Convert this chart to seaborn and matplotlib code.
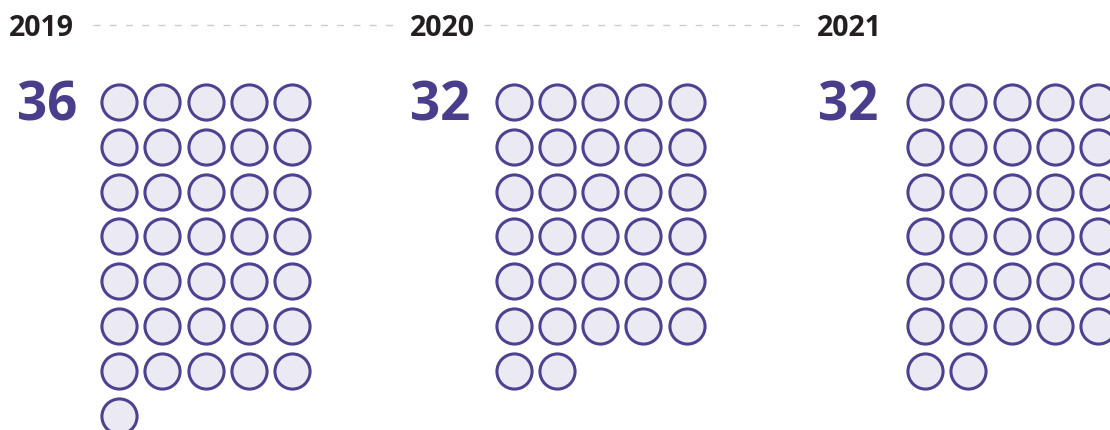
import pandas as pd
import matplotlib.pyplot as plt
import seaborn as sns

years = ['2019', '2020', '2021']
counts = [36, 32, 32]

# layout (pixels)
group_x = [119, 513.5, 925]
label_x = [9, 410, 817]
number_right = [77, 470, 878]
dash_spans = [(93, 397), (484, 803)]
top_y = 103
col_step, row_step = 43.3, 44.8
ncols = 5

sns.set_theme(style="white")
plt.rcParams['font.family'] = ['Open Sans', 'DejaVu Sans']

rows = []
for year, n, gx in zip(years, counts, group_x):
    for i in range(n):
        rows.append({'year': year,
                     'x': gx + (i % ncols) * col_step,
                     'y': top_y + (i // ncols) * row_step})
df = pd.DataFrame(rows)

fig = plt.figure(figsize=(11.1, 4.31), dpi=100)
ax = fig.add_axes([0, 0, 1, 1])
ax.set_xlim(0, 1110)
ax.set_ylim(431, 0)
ax.axis('off')

sns.scatterplot(data=df, x='x', y='y', s=640, color='#ebeaf2',
                edgecolor='#4c4291', linewidth=2.2, legend=False, ax=ax)

for year, n, lx, nr in zip(years, counts, label_x, number_right):
    ax.text(lx, 36, year, fontsize=20.5, fontweight='bold', color='#231f20',
            ha='left', va='baseline')
    ax.text(nr, 121, str(n), fontsize=38, fontweight='bold', color='#4a3d8b',
            ha='right', va='baseline')

for x0, x1 in dash_spans:
    ax.plot([x0, x1], [26, 26], color='#cccccc', lw=1, dashes=(5, 6.7))

fig.savefig('out.png', dpi=100)
